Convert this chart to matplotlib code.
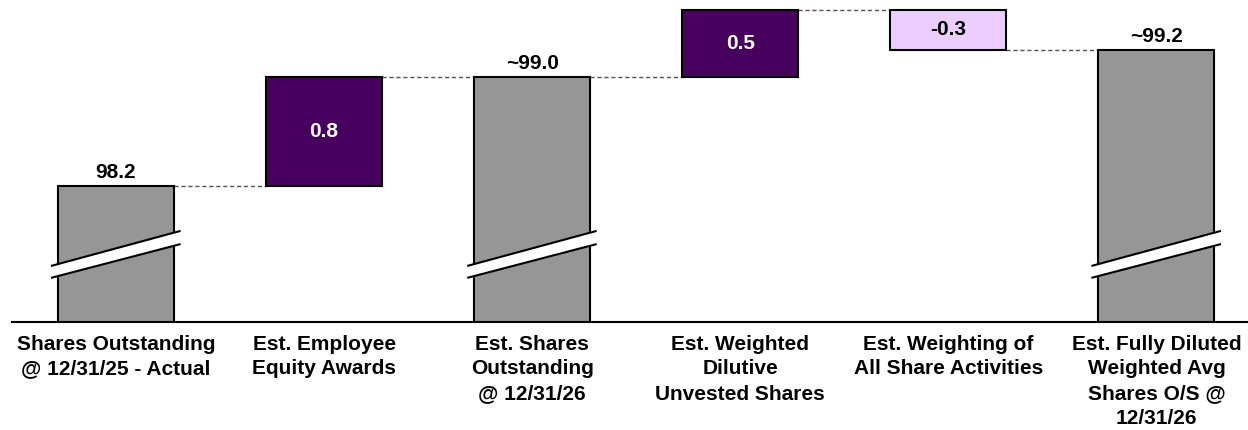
import matplotlib
matplotlib.use('Agg')
import matplotlib.pyplot as plt
import matplotlib.transforms as mtransforms
import numpy as np

plt.rcParams['font.family'] = ['Liberation Sans', 'DejaVu Sans']

# share walk, in millions
categories = [
    'Shares Outstanding\n@ 12/31/25 - Actual',
    'Est. Employee\nEquity Awards',
    'Est. Shares\nOutstanding\n@ 12/31/26',
    'Est. Weighted\nDilutive\nUnvested Shares',
    'Est. Weighting of\nAll Share Activities',
    'Est. Fully Diluted\nWeighted Avg\nShares O/S @\n12/31/26',
]
step_values = [98.2, 0.8, 99.0, 0.5, -0.3, 99.2]
is_total = [True, False, True, False, False, True]
value_labels = ['98.2', '0.8', '~99.0', '0.5', '-0.3', '~99.2']

GRAY = '#969696'
PURPLE = '#48005E'
LAVENDER = '#EBCDFF'
BAR_W = 0.558
AXIS_FLOOR, AXIS_TOP = 97.2, 99.57
FS = 15

fig = plt.figure(figsize=(12.48, 4.3), dpi=100)
ax = fig.add_axes([12 / 1248, 108 / 430, 1 - 12 / 1248, 322 / 430])

x = np.arange(len(categories))
running = 0.0
levels = []
for i, (v, tot) in enumerate(zip(step_values, is_total)):
    if tot:
        ax.bar(x[i], v, width=BAR_W, color=GRAY, edgecolor='black', linewidth=1.5, zorder=2)
        running = v
        ax.annotate(value_labels[i], (x[i], v), xytext=(0, 3), textcoords='offset points',
                    ha='center', va='bottom', fontsize=FS, fontweight='bold')
    else:
        start = running
        running = start + v
        color = PURPLE if v > 0 else LAVENDER
        ax.bar(x[i], v, bottom=start, width=BAR_W, color=color, edgecolor='black',
               linewidth=1.5, zorder=2)
        ax.text(x[i], start + v / 2, value_labels[i], ha='center', va='center',
                fontsize=FS, fontweight='bold', color='white' if v > 0 else 'black', zorder=3)
    levels.append(running)

# dashed connectors between neighbouring bars
for i in range(len(categories) - 1):
    ax.plot([x[i] + BAR_W / 2, x[i + 1] - BAR_W / 2], [levels[i], levels[i]],
            color='#555555', linewidth=1, dashes=(3, 2), zorder=1)

# axis-break marks across the total bars (y in axes fraction)
trans = mtransforms.blended_transform_factory(ax.transData, ax.transAxes)
for i, tot in enumerate(is_total):
    if not tot:
        continue
    x0, x1 = x[i] - 0.3125, x[i] + 0.31
    upper = (0.174, 0.283)
    lower = (0.137, 0.242)
    ax.fill([x0, x1, x1, x0], [upper[0], upper[1], lower[1], lower[0]],
            color='white', transform=trans, zorder=4, linewidth=0)
    ax.plot([x0, x1], upper, color='black', linewidth=1.5, transform=trans, zorder=5,
            solid_capstyle='butt')
    ax.plot([x0, x1], lower, color='black', linewidth=1.5, transform=trans, zorder=5,
            solid_capstyle='butt')

ax.set_xlim(-0.5, 5.44)
ax.set_ylim(AXIS_FLOOR, AXIS_TOP)
ax.set_xticks(x)
ax.set_xticklabels(categories, fontsize=FS, fontweight='bold', linespacing=1.4)
ax.tick_params(axis='x', length=0, pad=9)
ax.set_yticks([])
for side in ['top', 'right', 'left']:
    ax.spines[side].set_visible(False)
ax.spines['bottom'].set_linewidth(1.5)
ax.spines['bottom'].set_zorder(6)

fig.savefig('out.png', dpi=100)
